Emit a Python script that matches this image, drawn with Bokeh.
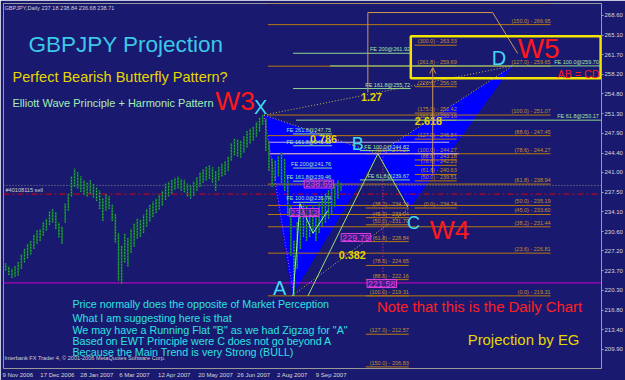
from bokeh.plotting import figure
from bokeh.models import Range1d, FixedTicker, NumeralTickFormatter, Label, Arrow, OpenHead
from bokeh.embed import file_html
from bokeh.resources import INLINE
from bokeh.core.properties import value

# ---------------- data ----------------
bar_index = list(range(0, 217, 2))
highs = [225.5, 225.0, 224.5, 224.1, 224.5, 225.2, 226.6, 227.6, 228.5, 229.0,
         230.1, 230.8, 231.1, 232.2, 232.9, 234.1, 234.5, 234.0, 232.2, 231.5,
         235.5, 237.3, 240.3, 241.7, 241.0, 240.3, 239.6, 239.2, 239.6, 238.9,
         238.3, 237.8, 236.4, 237.1, 236.8, 235.3, 233.6, 230.4, 228.1, 230.2,
         229.4, 231.1, 232.0, 232.9, 232.7, 233.6, 234.6, 235.3, 235.9, 236.4,
         237.1, 237.8, 239.0, 239.4, 239.7, 240.1, 240.3, 239.9, 239.7, 239.0,
         238.7, 239.4, 240.1, 241.0, 241.5, 242.0, 242.2, 241.9, 241.3, 242.0,
         242.5, 242.9, 243.8, 246.2, 246.9, 246.8, 246.6, 247.3, 248.2, 248.7,
         249.0, 249.9, 250.6, 251.1, 250.5, 246.6, 243.4, 243.1, 243.9, 244.5,
         243.4, 239.9, 235.2, 229.0, 232.2, 234.6, 235.5, 235.2, 234.6, 235.2,
         233.9, 235.7, 236.6, 237.3, 237.8, 238.2, 238.9, 239.6, 239.2]
lows = [224.1, 223.8, 223.0, 222.5, 222.7, 222.9, 224.1, 225.2, 225.9, 226.6,
        227.6, 228.5, 229.0, 229.9, 230.8, 231.8, 232.2, 231.1, 229.6, 228.5,
        232.2, 234.3, 236.8, 238.5, 238.2, 237.6, 237.1, 236.8, 237.3, 236.6,
        236.0, 234.6, 232.5, 234.3, 234.6, 232.5, 228.7, 222.0, 221.5, 225.2,
        224.5, 226.9, 228.0, 229.4, 229.7, 230.4, 231.5, 232.4, 233.2, 233.9,
        234.5, 235.2, 236.2, 236.8, 237.3, 238.0, 238.2, 237.8, 237.5, 236.8,
        236.4, 236.9, 237.8, 238.5, 239.2, 239.6, 239.9, 239.2, 237.8, 239.6,
        240.3, 240.6, 241.3, 243.1, 244.0, 243.8, 243.6, 244.5, 245.4, 246.1,
        246.6, 247.3, 248.2, 249.4, 244.8, 241.3, 238.5, 239.6, 240.3, 239.2,
        237.8, 233.4, 226.4, 219.3, 224.1, 227.6, 229.7, 229.0, 229.7, 230.4,
        229.0, 230.4, 231.5, 232.2, 232.9, 233.6, 235.0, 236.4, 237.8]

date_tick_bars = [9.75, 35.0, 60.2, 84.1, 109.7, 135.9, 160.2, 184.9, 209.7]
date_labels = ["9 Nov 2006", "17 Dec 2006", "28 Jan 2007", "6 Mar 2007", "12 Apr 2007",
               "20 May 2007", "26 Jun 2007", "2 Aug 2007", "9 Sep 2007"]
price_ticks = [268.6, 265.1, 261.7, 258.2, 254.8, 251.3, 247.9, 244.4, 241.0, 237.5,
               234.1, 230.6, 227.2, 223.7, 220.3, 216.8, 213.4, 209.9, 206.5]

# harmonic pattern points X, A, B, C, D
pat_names = ["X", "A", "B", "C", "D"]
pat_bar = [166.9, 184.7, 239.5, 259.9, 325.5]
pat_price = [251.07, 219.31, 244.27, 234.74, 259.70]

# manual zigzag after A
zz_bar = [185.4, 189.8, 198.1, 207.6]
zz_price = [219.31, 235.5, 230.3, 234.3]

# Fibonacci sets
fib_xa_levels = [0.0, 23.6, 38.2, 45.0, 50.0, 61.8, 78.6, 88.6, 100.0, 127.0, 150.0, 161.8]
fib_xa_prices = [219.31, 226.81, 231.44, 233.60, 235.19, 238.94, 244.27, 247.45, 251.07, 259.65, 266.95, 270.70]
fib_ab_levels = [0.0, 38.2, 45.0, 50.0, 61.8, 78.6, 88.6, 100.0, 127.0, 150.0]
fib_ab_prices = [244.27, 234.74, 233.04, 231.79, 228.84, 224.65, 222.16, 219.31, 212.57, 206.83]
fib_bc_levels = [0.0, 50.0, 61.8, 78.6, 88.6, 100.0, 127.0, 161.8, 175.0, 223.6, 261.8, 300.0]
fib_bc_prices = [234.74, 239.51, 240.63, 242.23, 243.18, 244.27, 246.84, 250.16, 251.42, 256.05, 259.69, 263.33]

# Fibonacci expansion lines
fe_texts = ["FE 200@261.92", "FE 161.8@255.72", "FE 100.0@259.70", "FE 61.8@250.17",
            "FE 261.8@247.75", "FE 161.8@245.68", "FE 200@241.76", "FE 161.8@239.46",
            "FE 100.0@235.74", "FE 100.0@244.82", "FE 61.8@239.67"]
fe_prices = [261.92, 255.72, 259.70, 250.17, 247.75, 245.68, 241.76, 239.46, 235.74, 244.82, 239.67]
fe_from = [185.4, 185.4, 209.0, 187.3, 185.4, 185.4, 185.4, 185.4, 185.4, 228.0, 228.0]
fe_to = [260.5, 260.5, 382.2, 382.2, 210.2, 210.2, 210.2, 210.2, 210.2, 259.9, 259.9]

# lavender projection lines
lav_prices = [246.29, 244.27]
lav_from = [169.4, 169.4]
lav_to = [285.0, 291.0]

# magenta price tags
tag_text = ["238.69", "234.12", "229.79", "221.58"]
tag_bar = [201.9, 192.4, 225.5, 242.0]
tag_price = [238.95, 233.94, 229.55, 221.47]

bid_price = 238.71
order_price = 237.18
alert_price = 221.58
box_top, box_bottom = 264.91, 257.53
box_from, box_to = 260.5, 381.6

body_lines = ["Price normally does the opposite of Market Perception",
              "What I am suggesting here is that",
              "We may have a Running Flat \"B\" as we had Zigzag for \"A\"",
              "Based on EWT Principle were C  does not go beyond A",
              "Because the Main Trend is very Strong (BULL)"]
body_prices = [217.90, 215.44, 213.34, 211.33, 209.40]

# ---------------- figure ----------------
BG = "#191970"
FONT = "Liberation Sans"
p = figure(width=625, height=380, x_range=Range1d(0.637, 382.17), y_range=Range1d(206.55, 270.66),
           output_backend="svg", toolbar_location=None, y_axis_location="right",
           min_border_left=3, min_border_top=3, min_border_right=23, min_border_bottom=12,
           background_fill_color=BG, border_fill_color=BG,
           outline_line_color="#9a9a9a", outline_line_width=1)
p.grid.visible = False

ya = p.yaxis[0]
ya.ticker = FixedTicker(ticks=price_ticks)
ya.formatter = NumeralTickFormatter(format="0.00")
xa = p.xaxis[0]
xa.ticker = FixedTicker(ticks=date_tick_bars)
xa.major_label_overrides = {t: l for t, l in zip(date_tick_bars, date_labels)}
for ax in (xa, ya):
    ax.axis_line_color = None
    ax.minor_tick_line_color = None
    ax.major_label_text_font_size = "6px"
    ax.major_label_text_color = "#d8d8d8"
    ax.major_label_text_font = FONT
ya.major_tick_in = 0
ya.major_tick_out = 2
ya.major_tick_line_color = "#a0a0a0"
ya.major_label_standoff = 1
xa.major_tick_line_color = None
xa.major_tick_in = 0
xa.major_tick_out = 0
xa.major_label_standoff = 3

# harmonic triangles (blue)
p.patch([pat_bar[0], pat_bar[1], pat_bar[2]], [pat_price[0], pat_price[1], pat_price[2]],
        fill_color="#0000ff", line_color=None)
p.patch([pat_bar[2], pat_bar[3], pat_bar[4]], [pat_price[2], pat_price[3], pat_price[4]],
        fill_color="#0000ff", line_color=None)

# horizontal levels
p.segment(x0=[0.6], y0=[alert_price], x1=[382.2], y1=[alert_price], line_color="#d000d0", line_width=1)
p.segment(x0=[169.4] * len(fib_xa_prices), y0=fib_xa_prices, x1=[349.7] * len(fib_xa_prices),
          y1=fib_xa_prices, line_color="#b8780c", line_width=1)
p.segment(x0=[231.8] * len(fib_ab_prices), y0=fib_ab_prices, x1=[259.2] * len(fib_ab_prices),
          y1=fib_ab_prices, line_color="#b8780c", line_width=1)
p.segment(x0=[263.0] * len(fib_bc_prices), y0=fib_bc_prices, x1=[289.8] * len(fib_bc_prices),
          y1=fib_bc_prices, line_color="#b8780c", line_width=1)
p.segment(x0=lav_from, y0=lav_prices, x1=lav_to, y1=lav_prices, line_color="#c4b0f8", line_width=1)
p.segment(x0=fe_from, y0=fe_prices, x1=fe_to, y1=fe_prices, line_color="#8ed88e", line_width=1)
p.segment(x0=[0.6], y0=[bid_price], x1=[382.2], y1=[bid_price], line_color="#8c8c8c",
          line_width=1, line_dash="1 2")
p.segment(x0=[0.6], y0=[order_price], x1=[380.0], y1=[order_price], line_color="#e00000",
          line_width=1, line_dash="6 3 2 3")

# candles
p.segment(x0=bar_index, y0=lows, x1=bar_index, y1=highs, line_color="#0c6a24", line_width=1.7)
p.segment(x0=bar_index, y0=lows, x1=bar_index, y1=highs, line_color="#48c890", line_width=1,
          line_dash="1 2")

# dotted helper lines
p.segment(x0=[pat_bar[0]], y0=[pat_price[0]], x1=[185.4], y1=[220.24], line_color="#e050e0",
          line_width=1, line_dash="1 2")
p.segment(x0=[242.7], y0=[244.27], x1=[242.7], y1=[219.31], line_color="#e04090",
          line_width=1, line_dash="1 2")
dot_pairs = [(0, 4), (0, 2), (1, 3), (2, 4)]
p.segment(x0=[pat_bar[a] for a, b in dot_pairs], y0=[pat_price[a] for a, b in dot_pairs],
          x1=[pat_bar[b] for a, b in dot_pairs], y1=[pat_price[b] for a, b in dot_pairs],
          line_color="#c8b848", line_width=1, line_dash="1 2")
# green legs
p.line([194.9, pat_bar[2], 258.6], [219.31, pat_price[2], 234.9], line_color="#9de07a", line_width=1)
p.line(zz_bar, zz_price, line_color="#a0f0a0", line_width=1)

# orange channel polyline and arrow
p.line([233.1, 233.1, 312.7, 328.7], [255.02, 269.07, 269.07, 261.87], line_color="#d09a50", line_width=1)
p.add_layout(Arrow(end=OpenHead(size=6, line_color="#d09a50", line_width=1),
                   x_start=274.5, y_start=240.79, x_end=274.5, y_end=259.41,
                   line_color="#d09a50", line_width=1))

# yellow target box
p.quad(left=[box_from], right=[box_to], top=[box_top], bottom=[box_bottom],
       fill_color=None, line_color="#f0e400", line_width=2.5)


def txt(x, y, s, size, color, align="left", baseline="middle", bold=False, font=FONT, yoff=0):
    p.text(x=[x], y=[y], text=[s], text_font=value(font), text_font_size=size,
           text_color=color, text_align=align, text_baseline=baseline,
           text_font_style="bold" if bold else "normal", y_offset=yoff)


# magenta price tags
p.text(x=tag_bar, y=tag_price, text=tag_text, text_font=value(FONT), text_font_size="9px",
       text_color="#e040e0", text_align="center", text_baseline="middle",
       background_fill_color="#4a2090", background_fill_alpha=0.6,
       border_line_color="#e040e0", padding=1)

# fib labels
for lv, pr in zip(fib_xa_levels[:-1], fib_xa_prices[:-1]):
    txt(349.7, pr, f"({lv:.1f}) - {pr:.2f}", "5.5px", "#c8902a", align="right", baseline="bottom", yoff=-1)
for lv, pr in zip(fib_ab_levels, fib_ab_prices):
    txt(259.2, pr, f"({lv:.1f}) - {pr:.2f}", "5.5px", "#c8902a", align="right", baseline="bottom", yoff=-1)
for lv, pr in zip(fib_bc_levels, fib_bc_prices):
    txt(289.8, pr, f"({lv:.1f}) - {pr:.2f}", "5.5px", "#c8902a", align="right", baseline="bottom", yoff=-1)
for s, pr, x1 in zip(fe_texts, fe_prices, fe_to):
    txt(min(x1, 381.0) - 0.5, pr, s, "5.5px", "#a8e8a8", align="right", baseline="bottom", yoff=-1)

# headline texts
txt(16.56, 263.54, "GBPJPY Projection", "22.5px", "#3cc8e6")
txt(6.37, 257.83, "Perfect Bearish Butterfly Pattern?", "14.5px", "#e6d600")
txt(6.37, 253.18, "Elliott Wave Principle + Harmonic Pattern", "11px", "#a4eeb4")
txt(135.67, 253.53, "W3", "26.5px", "#ff1818")
txt(328.66, 262.75, "W5", "28px", "#ff1818")
txt(272.6, 230.96, "W4", "26.5px", "#ff1818")
txt(354.1, 258.36, "AB = CD", "10.7px", "#ff1818")
txt(160.5, 252.47, "X", "20px", "#40d8f0")
txt(312.1, 261.08, "D", "20px", "#40d8f0")
txt(222.9, 245.97, "B", "18px", "#40d8f0")
txt(258.0, 232.10, "C", "18px", "#40d8f0")
txt(172.6, 220.68, "A", "20px", "#40d8f0")
txt(196.2, 246.94, "0.786", "10.8px", "#e6d600", bold=True)
txt(228.7, 254.32, "1.27", "10.8px", "#e6d600", bold=True)
txt(263.1, 250.10, "2.618", "10.8px", "#e6d600", bold=True)
txt(214.6, 226.48, "0.382", "10.8px", "#e6d600", bold=True)
txt(238.9, 217.43, "Note that this is the Daily Chart", "14.9px", "#ff2020")
txt(296.8, 211.63, "Projection by EG", "14.9px", "#e6d600")
for s, pr in zip(body_lines, body_prices):
    txt(44.6, pr, s, "10.7px", "#2ee2e2")
txt(1.27, 208.47, "Interbank FX Trader 4, \u00a9 2001-2006 MetaQuotes Software Corp.", "5.6px", "#d0d0d0")
txt(1.27, 269.86, "GBPJPY,Daily  237.18 238.84 236.68 238.71", "5.6px", "#d0d0d0")
txt(1.9, 237.89, "#40108115 sell", "5.6px", "#d0d0d0")

# price markers on the axis
p.add_layout(Label(x=384.1, y=bid_price, text=f"{bid_price:.2f}", text_font_size="6px",
                   text_color="black", background_fill_color="white", text_baseline="middle",
                   text_font=FONT))
p.add_layout(Label(x=384.1, y=alert_price, text=f"{alert_price:.2f}", text_font_size="6px",
                   text_color="white", background_fill_color="#e000e0", text_baseline="middle",
                   text_font=FONT))

open("out.html", "w").write(file_html(p, INLINE))
